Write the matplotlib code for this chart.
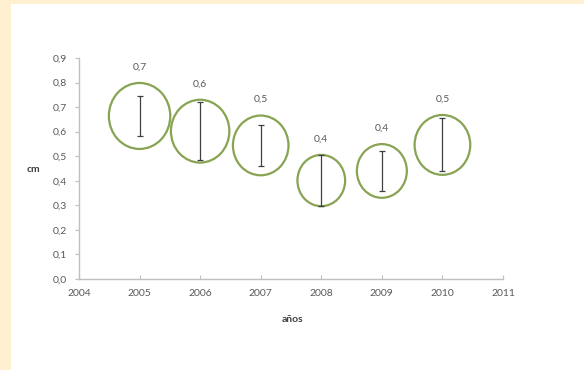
import matplotlib
matplotlib.use("Agg")
import matplotlib.pyplot as plt
import numpy as np
from matplotlib.path import Path
from matplotlib.patches import Rectangle
from matplotlib.ticker import FuncFormatter

# data
years = [2005, 2006, 2007, 2008, 2009, 2010]
values = [0.664, 0.602, 0.544, 0.401, 0.440, 0.546]
errors = [0.080, 0.117, 0.082, 0.104, 0.083, 0.108]
bubble_size = [0.664, 0.602, 0.544, 0.401, 0.440, 0.546]

bg_color = "#FFF0D2"
panel_color = "#FFFFFF"
bubble_edge = "#88A352"
text_color = "#595959"
spine_color = "#BFBFBF"

plt.rcParams["font.family"] = ["Lato", "DejaVu Sans"]

fig = plt.figure(figsize=(5.84, 3.70), dpi=100)
fig.set_facecolor(bg_color)
fig.patches.append(Rectangle((11 / 584, 0), 1 - 11 / 584, 1 - 4 / 370,
                             transform=fig.transFigure, facecolor=panel_color,
                             edgecolor="none", zorder=-10))

ax = fig.add_axes([79 / 584, 1 - 279 / 370, (503 - 79) / 584, (279 - 58) / 370])
ax.set_facecolor("none")

# slightly stretched circle, like the bubbles in the picture
circ = Path.unit_circle()
ellipse = Path(circ.vertices * np.array([0.93, 1.0]), circ.codes)

k = 3400
sizes = [k * b for b in bubble_size]
ax.scatter(years, values, s=sizes, marker=ellipse, facecolors="none",
           edgecolors=bubble_edge, linewidths=1.6, zorder=3, clip_on=False)
ax.errorbar(years, values, yerr=errors, fmt="none", ecolor="#404040",
            elinewidth=0.9, capsize=2, capthick=0.9, zorder=4)

for x, y, s in zip(years, values, sizes):
    ax.annotate(f"{y:.1f}".replace(".", ","), xy=(x, y),
                xytext=(0, np.sqrt(s) / 2 + 11.5), textcoords="offset points",
                ha="center", va="center", fontsize=7.5, color=text_color)

ax.set_xlim(2004, 2011)
ax.set_ylim(0, 0.9)
ax.set_xticks(np.arange(2004, 2012))
ax.set_yticks(np.arange(0, 0.91, 0.1))
ax.yaxis.set_major_formatter(FuncFormatter(lambda v, p: f"{v:.1f}".replace(".", ",")))

for side in ["top", "right"]:
    ax.spines[side].set_visible(False)
for side in ["left", "bottom"]:
    ax.spines[side].set_color(spine_color)
    ax.spines[side].set_linewidth(1)

ax.tick_params(axis="y", colors=spine_color, labelcolor=text_color, labelsize=7.5,
               length=3, direction="out", pad=6)
ax.tick_params(axis="x", colors=spine_color, labelcolor=text_color, labelsize=7.5,
               length=3, direction="in", pad=7)

fig.text(33 / 584, 1 - 170 / 370, "cm", fontsize=7.5, color="#404040",
         fontweight="bold", ha="center", va="center")
fig.text(292 / 584, 1 - 320 / 370, "años", fontsize=7.5, color="#404040",
         fontweight="bold", ha="center", va="center")

fig.savefig("out.png", dpi=100, facecolor=fig.get_facecolor())
